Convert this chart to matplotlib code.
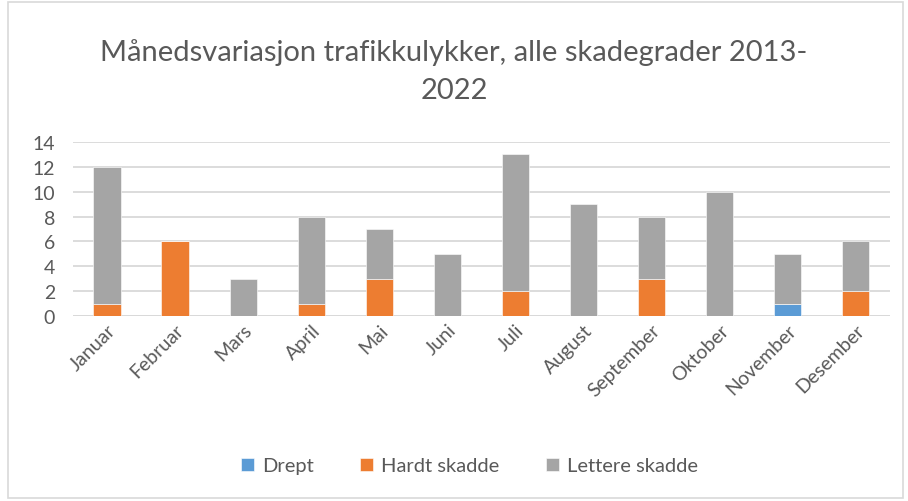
import matplotlib.pyplot as plt
import numpy as np
from matplotlib.patches import Rectangle

# data
months = ["Januar", "Februar", "Mars", "April", "Mai", "Juni", "Juli",
          "August", "September", "Oktober", "November", "Desember"]
drept = [0, 0, 0, 0, 0, 0, 0, 0, 0, 0, 1, 0]
hardt = [1, 6, 0, 1, 3, 0, 2, 0, 3, 0, 0, 2]
lettere = [11, 0, 3, 7, 4, 5, 11, 9, 5, 10, 4, 4]
yticks = [0, 2, 4, 6, 8, 10, 12, 14]

plt.rcParams['font.family'] = ['Lato', 'DejaVu Sans']
txt = '#595959'

fig = plt.figure(figsize=(9.08, 5.02), dpi=100)
ax = fig.add_axes([0.0804, 0.3685, 0.8996, 0.3465])

x = np.arange(len(months))
w = 0.4
drept = np.array(drept)
hardt = np.array(hardt)
lettere = np.array(lettere)
ax.bar(x, drept, w, color='#5B9BD5', edgecolor='white', linewidth=0.4, label='Drept', zorder=3)
ax.bar(x, hardt, w, bottom=drept, color='#ED7D31', edgecolor='white', linewidth=0.4, label='Hardt skadde', zorder=3)
ax.bar(x, lettere, w, bottom=drept + hardt, color='#A5A5A5', edgecolor='white', linewidth=0.4, label='Lettere skadde', zorder=3)

ax.set_xlim(-0.5, len(months) - 0.5)
ax.set_ylim(0, 14)
ax.set_yticks(yticks)
ax.yaxis.grid(True, color='#D9D9D9', linewidth=1.3, zorder=0)
ax.tick_params(axis='both', length=0, labelsize=14, labelcolor=txt)
ax.tick_params(axis='y', pad=13)
ax.set_xticks(x)
ax.set_xticklabels(months, rotation=45, ha='right', rotation_mode='anchor')
for s in ax.spines.values():
    s.set_visible(False)
ax.axhline(0, color='#D9D9D9', linewidth=1.3, zorder=1)

fig.text(0.5, 0.858, "Månedsvariasjon trafikkulykker, alle skadegrader 2013-\n2022",
         ha='center', va='center', fontsize=21, color=txt, linespacing=1.55)

fig.legend(loc='center', bbox_to_anchor=(0.517, 0.07), ncol=3, frameon=False,
           fontsize=14.5, labelcolor=txt, handlelength=0.65, handleheight=0.65,
           handletextpad=0.4, columnspacing=2.3)

fig.patches.append(Rectangle((0.009, 0.005), 0.985, 0.99, transform=fig.transFigure,
                             fill=False, edgecolor='#D9D9D9', linewidth=1.2))

fig.savefig('out.png', dpi=100)
